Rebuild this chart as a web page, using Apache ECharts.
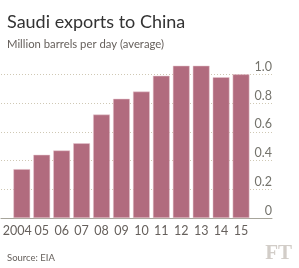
<!DOCTYPE html>
<html><head><meta charset="utf-8">
<script src="https://cdn.jsdelivr.net/npm/echarts@6/dist/echarts.min.js"></script>
<style>html,body{margin:0;padding:0;background:#fff}#c{width:299px;height:268px}</style>
</head><body><div id="c"></div>
<script>
var categories = ['2004','05','06','07','08','09','10','11','12','13','14','15'];
var exportsValues = [0.34, 0.44, 0.47, 0.52, 0.72, 0.83, 0.88, 0.99, 1.06, 1.06, 0.98, 1.00];
var yTicks = [0, 0.2, 0.4, 0.6, 0.8, 1.0];

var chart = echarts.init(document.getElementById('c'), null, {renderer:'canvas'});
var font = 'Lato, sans-serif';
chart.setOption({
  backgroundColor: '#ffffff',
  animation: false,
  title: [
    {text: 'Saudi exports to China', left: 2, top: 8,
     textStyle: {fontFamily: font, fontSize: 18, fontWeight: 'normal', color: '#333333'}},
    {text: 'Million barrels per day (average)', left: 2, top: 34,
     textStyle: {fontFamily: font, fontSize: 11.3, fontWeight: 'normal', color: '#66605c'}},
    {text: 'Source: EIA', left: 2, bottom: 0,
     textStyle: {fontFamily: font, fontSize: 9.5, fontWeight: 'normal', color: '#66605c'}},
    {text: 'FT', right: 2, bottom: -1,
     textStyle: {fontFamily: 'Liberation Serif, DejaVu Serif, serif', fontSize: 21, fontWeight: 'bold', color: '#d2cdc8'}}
  ],
  grid: [
    {left: 7, right: 48, top: 60, bottom: 50},
    {left: 1, right: 27, top: 60, bottom: 50}
  ],
  xAxis: [
    {type: 'category', gridIndex: 0, data: categories,
     axisLine: {show: false}, axisTick: {show: false},
     axisLabel: {margin: 6, fontFamily: font, fontSize: 12.5, color: '#66605c', interval: 0,
       formatter: function (v, i) { return i === 0 ? '{f|' + v + '}' : v; },
       rich: {f: {fontFamily: font, fontSize: 12.5, color: '#66605c', padding: [0, 9, 0, 0]}}}},
    {type: 'value', gridIndex: 1, min: 0, max: 1, show: true,
     axisLine: {show: true, lineStyle: {color: '#a7a59b', width: 1}},
     axisTick: {show: false}, axisLabel: {show: false}, splitLine: {show: false}}
  ],
  yAxis: [
    {type: 'value', gridIndex: 0, min: 0, max: 1.1, show: false},
    {type: 'value', gridIndex: 1, min: 0, max: 1.1, interval: 0.2, position: 'right',
     axisLine: {show: false}, axisTick: {show: false},
     axisLabel: {inside: true, margin: 0, verticalAlign: 'bottom', padding: [0, 0, 1, 0],
       showMaxLabel: false, fontFamily: font, fontSize: 12.5, color: '#74736c',
       formatter: function (v) { return yTicks.indexOf(Math.round(v * 10) / 10) >= 0 ? (v === 0 ? '0' : v.toFixed(1)) : ''; }},
     splitLine: {show: true, showMaxLine: false, lineStyle: {color: '#cfc8b4', type: [1, 2], width: 1}}}
  ],
  series: [{
    type: 'bar', xAxisIndex: 0, yAxisIndex: 0, data: exportsValues,
    barCategoryGap: '16%',
    itemStyle: {color: '#b16b7e', borderColor: '#e8c9d0', borderWidth: 0.5}
  }]
});
</script></body></html>
